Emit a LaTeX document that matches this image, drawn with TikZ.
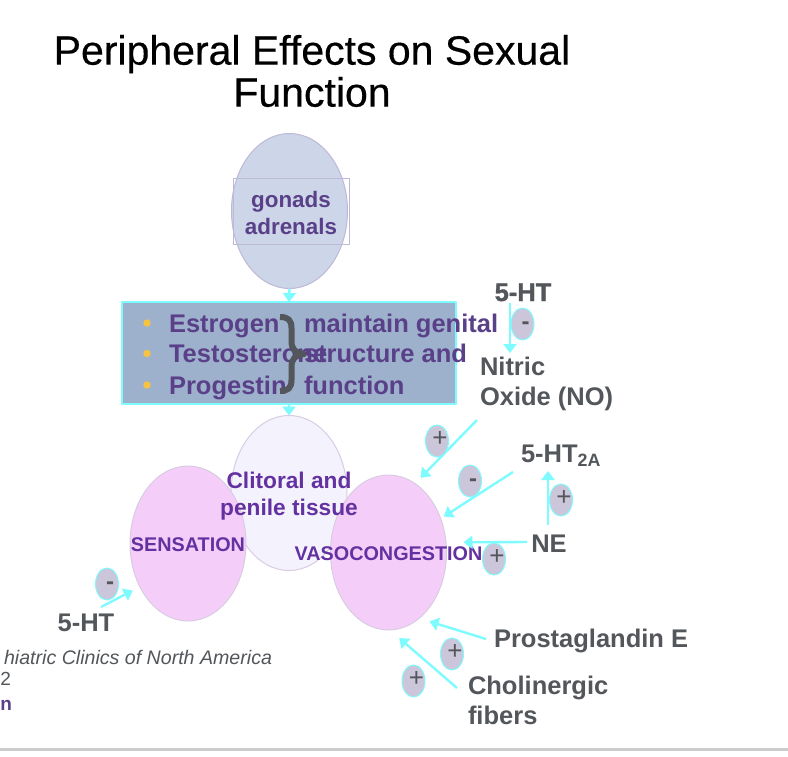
\documentclass[tikz,border=0pt]{standalone}
\usepackage{fontspec}
\setmainfont{Liberation Sans}
\newfontfamily\titlefont[FakeBold=0.4]{Liberation Sans}
\newfontfamily\heavyfont[BoldFeatures={FakeBold=1.2}]{Liberation Sans}
\usetikzlibrary{arrows.meta, shapes.geometric}

\definecolor{linkcyan}{HTML}{7DFBFF}
\definecolor{slategrey}{HTML}{53565A}
\definecolor{boxpurple}{HTML}{5A4088}
\definecolor{tissuepurple}{HTML}{6332A0}
\definecolor{ovaledge}{HTML}{BDB9D6}
\definecolor{pinkedge}{HTML}{D9CCE2}
\definecolor{gonadfill}{HTML}{CDD5E8}
\definecolor{boxblue}{HTML}{9DB1CC}
\definecolor{bulletgold}{HTML}{F5C242}
\definecolor{clitfill}{HTML}{F4F3FD}
\definecolor{pinkfill}{HTML}{F4CEF9}
\definecolor{signfill}{HTML}{CBC6D9}

\newcommand{\fs}[1]{\fontsize{#1}{#1}\selectfont}

\begin{document}
\begin{tikzpicture}[x=1pt, y=-1pt, >={Triangle[width=13pt, length=9pt]}, line join=round,
    every node/.style={inner sep=0pt, outer sep=0pt},
    blob/.style={ellipse, draw=pinkedge, line width=1pt, minimum width=116pt, minimum height=155pt},
    link/.style={->, linkcyan, line width=2.4pt},
    signoval/.style={ellipse, draw=linkcyan, fill=signfill, line width=1pt,
      minimum width=23pt, minimum height=32pt},
    plusmark/.style={text=slategrey, font=\fs{26}, xshift=3pt, yshift=2pt},
    minusmark/.style={text=slategrey, font=\bfseries\fs{24}, xshift=3pt, yshift=-1.5pt},
    drugtext/.style={text=slategrey, font=\bfseries\fs{25.5}, align=left},
    listtext/.style={text=boxpurple, font=\bfseries\fs{25.5}, anchor=base west},
    tissuetext/.style={text=tissuepurple, font=\bfseries\fs{19.8}}]

  \useasboundingbox (0,0) rectangle (788,756);
  \fill[white] (0,0) rectangle (788,756);
  \fill[black!20] (0,748) rectangle (788,751);

  %% ---- title ----
  \node[font=\titlefont\fs{41}, align=center] (title) at (312,71)
    {Peripheral Effects on Sexual\\[1pt]Function};

  %% ---- gonads + box ----
  \node[blob, draw=ovaledge, fill=gonadfill] (gonads) at (289.5,211) {};
  \node[draw=ovaledge, line width=1pt, minimum width=116pt, minimum height=66pt] (gonadbox) at (291,211) {};
  \node[text=boxpurple, font=\bfseries\fs{22.4}, align=center] (gonadtext) at (291,213)
    {gonads\\[4pt]adrenals};
  \node[draw=linkcyan, fill=boxblue, line width=2pt, minimum width=334pt, minimum height=102pt]
    (hormones) at (289,353) {};
  \draw[link] (gonads.south) -- (hormones.north);

  %% ---- list in the box ----
  \fill[bulletgold] (147,323) circle (3.7pt);
  \fill[bulletgold] (147,353.5) circle (3.7pt);
  \fill[bulletgold] (147,385) circle (3.7pt);
  \node[listtext] (estrogen) at (169,332) {Estrogen};
  \node[listtext] (testo) at (169,362.7) {Testosterone};
  \node[listtext] (progestin) at (169,394) {Progestin};
  \draw[slategrey, line width=6pt]
    (280,317) .. controls (288,317) and (291.5,320) .. (291.5,328) -- (291.5,341)
    .. controls (291.5,349) and (295,353) .. (304,354)
    .. controls (295,355) and (291.5,359) .. (291.5,367) -- (291.5,380)
    .. controls (291.5,388) and (288,391) .. (280,391);
  \node[listtext] (maintain) at (304,332) {maintain genital};
  \node[listtext] (structure) at (304,362.7) {structure and};
  \node[listtext] (function) at (304,394) {function};

  %% ---- tissue ----
  \node[blob, fill=clitfill] (clitoral) at (289,493) {};
  \node[blob, fill=pinkfill] (sensation) at (188,543.5) {};
  \node[blob, fill=pinkfill] (vaso) at (388.5,552.5) {};
  \draw[link] (hormones.south) -- (clitoral.north);
  \node[tissuetext, font=\bfseries\fs{22.7}, align=center] (clittext) at (289,496)
    {Clitoral and\\[5pt]penile tissue};
  \node[tissuetext] (senstext) at (188,545) {SENSATION};
  \node[tissuetext] (vasotext) at (388.5,553.5) {VASOCONGESTION};

  %% ---- drug labels ----
  \node[drugtext, anchor=base, font=\heavyfont\bfseries\fs{25.5}] (htone) at (523,301) {5-HT};
  \node[drugtext, anchor=north west] (nitric) at (480,357)
    {Nitric\\[4.5pt]Oxide (NO)};
  \node[drugtext, anchor=base west] (httwo) at (521,462.7) {5-HT\textsubscript{2A}};
  \node[drugtext, anchor=base] (ne) at (549,552) {NE};
  \node[drugtext, anchor=base west] (prosta) at (494,647.7) {Prostaglandin E};
  \node[drugtext, anchor=north west] (cholin) at (468,676.5) {Cholinergic\\[4.5pt]fibers};
  \node[drugtext, anchor=base] (htthree) at (86,631.7) {5-HT};

  %% ---- arrows to the ellipses (free ends are coordinates) ----
  \coordinate (htonetail) at (510,303);
  \coordinate (nitrichead) at (510,353);
  \coordinate (nitrictail) at (477,420);
  \coordinate (httwotail) at (513,472);
  \coordinate (netail) at (527,542);
  \coordinate (neup) at (548,525);
  \coordinate (httwohead) at (548,471);
  \coordinate (prostatail) at (486,639);
  \coordinate (cholintail) at (457,688);
  \coordinate (htthreetail) at (101,607);
  \draw[link] (htonetail) -- (nitrichead);
  \draw[link, shorten >=8pt] (nitrictail) -- (vaso.69.8);
  \draw[link, shorten >=3.7pt] (httwotail) -- (vaso.33.4);
  \draw[link] (neup) -- (httwohead);
  \draw[link, shorten >=17.5pt] (netail) -- (vaso.10.3);
  \draw[link, shorten >=10.8pt] (prostatail) -- (vaso.-65.5);
  \draw[link, shorten >=12.3pt] (cholintail) -- (vaso.-89);
  \draw[link, shorten >=8pt] (htthreetail) -- (sensation.222.6);

  %% ---- plus / minus ovals ----
  \node[signoval, label={[minusmark]center:-}] (signno) at (522.5,324) {};
  \node[signoval, label={[plusmark]center:+}] (signnv) at (437,441) {};
  \node[signoval, label={[minusmark]center:-}] (signht) at (470,481) {};
  \node[signoval, label={[plusmark]center:+}] (signup) at (561,500) {};
  \node[signoval, label={[plusmark]center:+}] (signne) at (494,559) {};
  \node[signoval, label={[plusmark]center:+}] (signpg) at (452,654) {};
  \node[signoval, label={[plusmark]center:+}] (signch) at (413.5,681) {};
  \node[signoval, label={[minusmark]center:-}] (signse) at (107,584) {};

  %% ---- cut off at the left edge ----
  \node[text=slategrey, font=\itshape\fs{19.6}, anchor=east] (journal) at (272,657)
    {hiatric Clinics of North America};
  \node[text=slategrey, font=\fs{19}, anchor=west] (journaltwo) at (0.5,679) {2};
  \node[text=boxpurple, font=\bfseries\fs{19}, anchor=west] (journalthree) at (0.5,705) {n};

\end{tikzpicture}
\end{document}
